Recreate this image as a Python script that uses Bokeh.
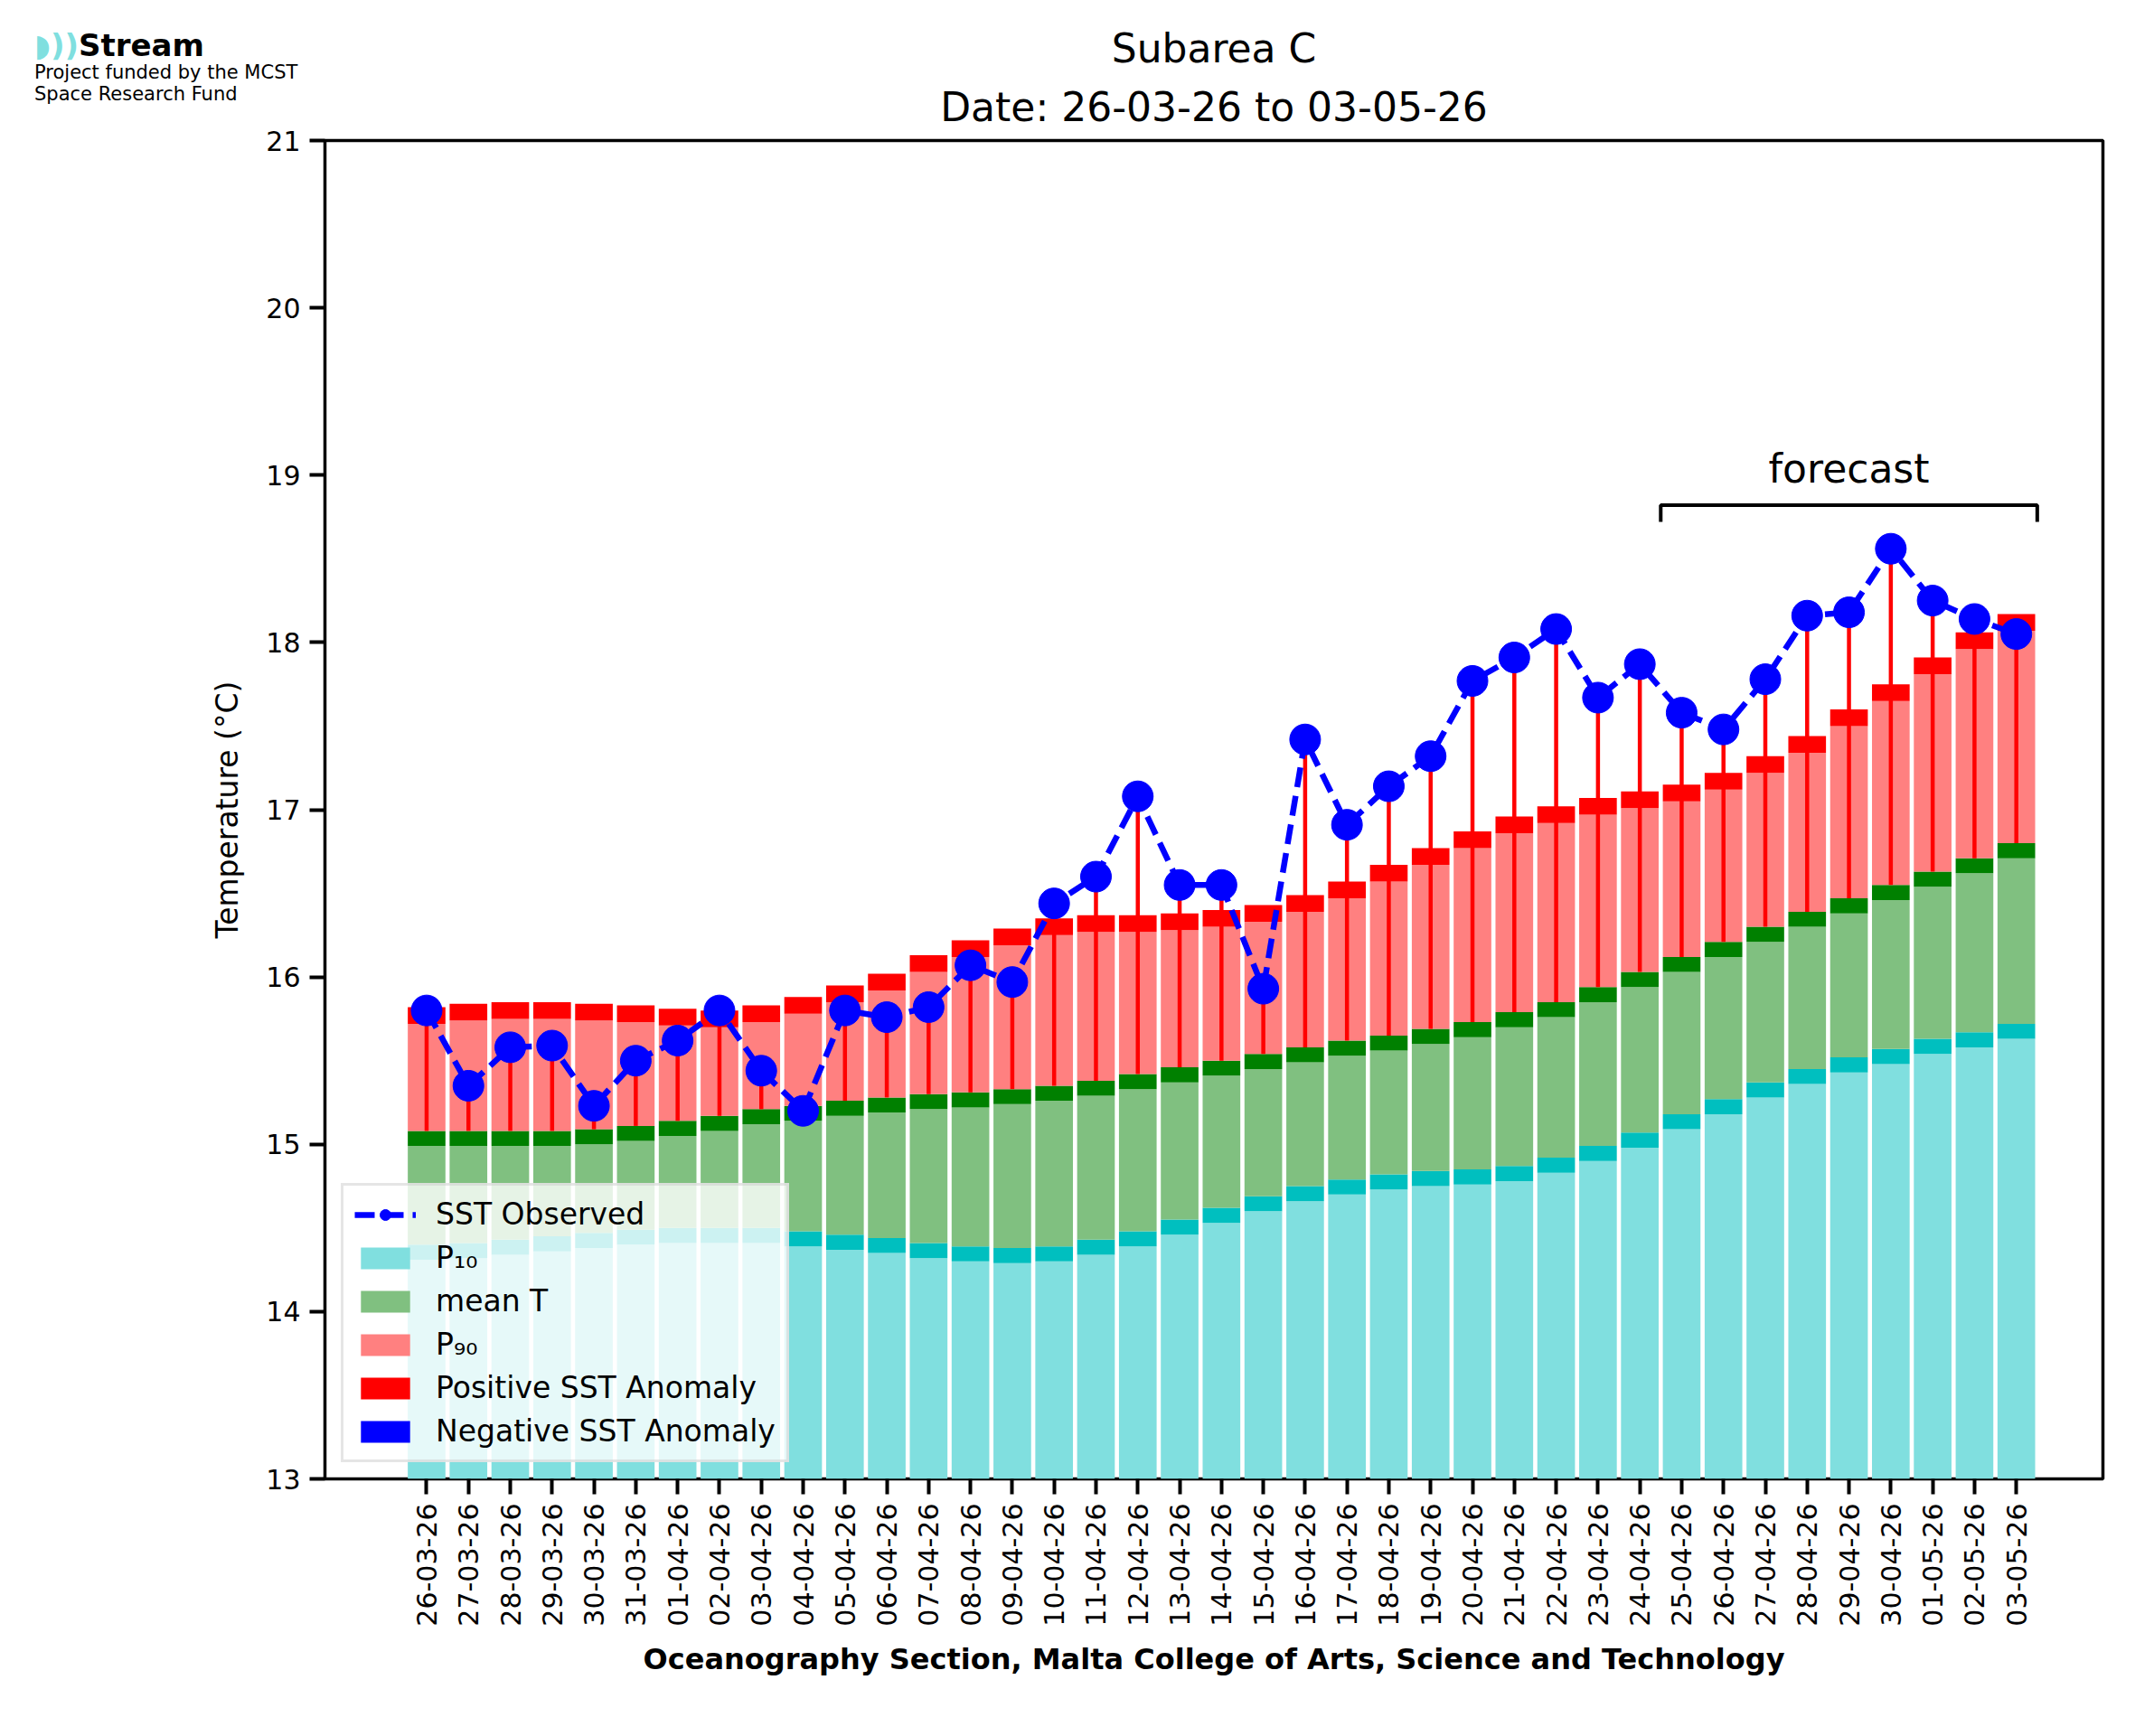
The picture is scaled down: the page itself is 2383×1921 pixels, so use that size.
from bokeh.plotting import figure
from bokeh.models import FixedTicker, Label, Title, Legend, LegendItem, Range1d, Div
from bokeh.layouts import column
from bokeh.embed import file_html
from bokeh.resources import INLINE

dates = ["26-03-26","27-03-26","28-03-26","29-03-26","30-03-26","31-03-26","01-04-26","02-04-26","03-04-26","04-04-26",
         "05-04-26","06-04-26","07-04-26","08-04-26","09-04-26","10-04-26","11-04-26","12-04-26","13-04-26","14-04-26",
         "15-04-26","16-04-26","17-04-26","18-04-26","19-04-26","20-04-26","21-04-26","22-04-26","23-04-26","24-04-26",
         "25-04-26","26-04-26","27-04-26","28-04-26","29-04-26","30-04-26","01-05-26","02-05-26","03-05-26"]
p90 = [15.82,15.84,15.85,15.85,15.84,15.83,15.81,15.80,15.83,15.88,15.95,16.02,16.13,16.22,16.29,16.35,16.37,16.37,16.38,16.40,
       16.43,16.49,16.57,16.67,16.77,16.87,16.96,17.02,17.07,17.11,17.15,17.22,17.32,17.44,17.60,17.75,17.91,18.06,18.17]
meanT = [15.08,15.08,15.08,15.08,15.09,15.11,15.14,15.17,15.21,15.23,15.26,15.28,15.30,15.31,15.33,15.35,15.38,15.42,15.46,15.50,
         15.54,15.58,15.62,15.65,15.69,15.73,15.79,15.85,15.94,16.03,16.12,16.21,16.30,16.39,16.47,16.55,16.63,16.71,16.80]
p10 = [14.40,14.41,14.43,14.45,14.47,14.49,14.50,14.50,14.50,14.48,14.46,14.44,14.41,14.39,14.38,14.39,14.43,14.48,14.55,14.62,
       14.69,14.75,14.79,14.82,14.84,14.85,14.87,14.92,14.99,15.07,15.18,15.27,15.37,15.45,15.52,15.57,15.63,15.67,15.72]
obs = [15.80,15.35,15.58,15.59,15.23,15.50,15.62,15.80,15.44,15.20,15.80,15.76,15.82,16.07,15.97,16.44,16.60,17.08,16.55,16.55,
       15.93,17.42,16.91,17.14,17.32,17.77,17.91,18.08,17.67,17.87,17.58,17.48,17.78,18.16,18.18,18.56,18.25,18.14,18.05]
forecast_start, forecast_end = 29.5, 38.5

n = len(dates)
x = list(range(n))
band = 0.09
W = 0.9

p = figure(width=2367, height=1900, output_backend="svg", toolbar_location=None,
           x_range=Range1d(-2.43, 40.07), y_range=Range1d(13, 21),
           min_border_left=359, min_border_right=41, min_border_top=155, min_border_bottom=264)
p.grid.visible = False
p.outline_line_color = "black"
p.outline_line_width = 3.5

lc = p.vbar(x=x, width=W, bottom=13, top=[v - band for v in p10], fill_color="#80dfdf", line_color=None)
p.vbar(x=x, width=W, bottom=[v - band for v in p10], top=p10, fill_color="#00bfbf", line_color=None)
lg = p.vbar(x=x, width=W, bottom=p10, top=[v - band for v in meanT], fill_color="#80c080", line_color=None)
p.vbar(x=x, width=W, bottom=[v - band for v in meanT], top=meanT, fill_color="#008000", line_color=None)
lr = p.vbar(x=x, width=W, bottom=meanT, top=[v - 0.1 for v in p90], fill_color="#ff8080", line_color=None)
pa = p.vbar(x=x, width=W, bottom=[v - 0.1 for v in p90], top=p90, fill_color="#ff0000", line_color=None)

xs_pos = [i for i in x if obs[i] >= meanT[i]]
p.segment(x0=xs_pos, x1=xs_pos, y0=[meanT[i] for i in xs_pos], y1=[obs[i] for i in xs_pos], line_color="#ff0000", line_width=4.5)
xs_neg = [i for i in x if obs[i] < meanT[i]]
p.segment(x0=xs_neg, x1=xs_neg, y0=[meanT[i] for i in xs_neg], y1=[obs[i] for i in xs_neg], line_color="#0000ff", line_width=4.5)
na = p.vbar(x=[0], width=0, bottom=0, top=0, fill_color="#0000ff", line_color=None)

ol = p.line(x, obs, line_color="#0000ff", line_width=6.5, line_dash="22 10")
oc = p.scatter(x, obs, size=34, fill_color="#0000ff", line_color="#0000ff")

p.line([forecast_start, forecast_start, forecast_end, forecast_end], [18.72, 18.82, 18.82, 18.72], line_color="black", line_width=4)
p.add_layout(Label(x=(forecast_start + forecast_end) / 2, y=18.9, text="forecast", text_align="center",
                   text_font="DejaVu Sans", text_font_size="44px", text_color="black"))

p.yaxis.ticker = FixedTicker(ticks=[13, 14, 15, 16, 17, 18, 19, 20, 21])
p.xaxis.ticker = FixedTicker(ticks=x)
p.xaxis.major_label_overrides = {i: d for i, d in enumerate(dates)}
p.xaxis.major_label_orientation = 1.5708
for ax in (p.xaxis, p.yaxis):
    ax.major_label_text_font = "DejaVu Sans"
    ax.major_label_text_font_size = "30px"
    ax.major_label_text_color = "black"
    ax.axis_line_color = None
    ax.major_tick_line_width = 4
    ax.major_tick_out = 17
    ax.major_tick_in = 0
    ax.minor_tick_line_color = None
    ax.major_label_standoff = 10
p.yaxis.axis_label = "Temperature (°C)"
p.yaxis.axis_label_text_font = "DejaVu Sans"
p.yaxis.axis_label_text_font_style = "normal"
p.yaxis.axis_label_text_font_size = "33px"
p.yaxis.axis_label_text_color = "black"
p.yaxis.axis_label_standoff = 20
p.xaxis.axis_label = "Oceanography Section, Malta College of Arts, Science and Technology"
p.xaxis.axis_label_text_font = "DejaVu Sans"
p.xaxis.axis_label_text_font_style = "bold"
p.xaxis.axis_label_text_font_size = "32px"
p.xaxis.axis_label_text_color = "black"
p.xaxis.axis_label_standoff = 14

p.add_layout(Title(text="Date: 26-03-26 to 03-05-26", align="center", text_font="DejaVu Sans", text_color="black",
                   text_font_size="44px", text_font_style="normal", offset=0, standoff=24), "above")
p.add_layout(Title(text="Subarea C", align="center", text_font="DejaVu Sans", text_color="black",
                   text_font_size="44px", text_font_style="normal", standoff=0), "above")

legend = Legend(items=[
    LegendItem(label="SST Observed", renderers=[ol, oc]),
    LegendItem(label="P₁₀", renderers=[lc]),
    LegendItem(label="mean T", renderers=[lg]),
    LegendItem(label="P₉₀", renderers=[lr]),
    LegendItem(label="Positive SST Anomaly", renderers=[pa]),
    LegendItem(label="Negative SST Anomaly", renderers=[na]),
], location="bottom_left", label_text_font="DejaVu Sans", label_text_font_size="33px", label_text_color="black",
    glyph_width=68, glyph_height=30, spacing=9, padding=12, margin=18, label_standoff=22,
    background_fill_alpha=0.8, border_line_color="#cccccc", border_line_width=3)
p.add_layout(legend)

logo_html = ('<div style="font-family:\'DejaVu Sans\';color:black;line-height:1.12">'
             '<div style="font-size:34px;font-weight:bold;"><span style="color:#80dfdf">◗))</span>Stream</div>'
             '<div style="font-size:21px">Project funded by the MCST</div>'
             '<div style="font-size:21px">Space Research Fund</div></div>')
logo = Div(text=logo_html, width=400, height=1,
           styles={"position": "absolute", "left": "33px", "top": "26px", "z-index": "10", "overflow": "visible"})

open("out.html", "w").write(file_html(column(logo, p, spacing=-1), INLINE))
